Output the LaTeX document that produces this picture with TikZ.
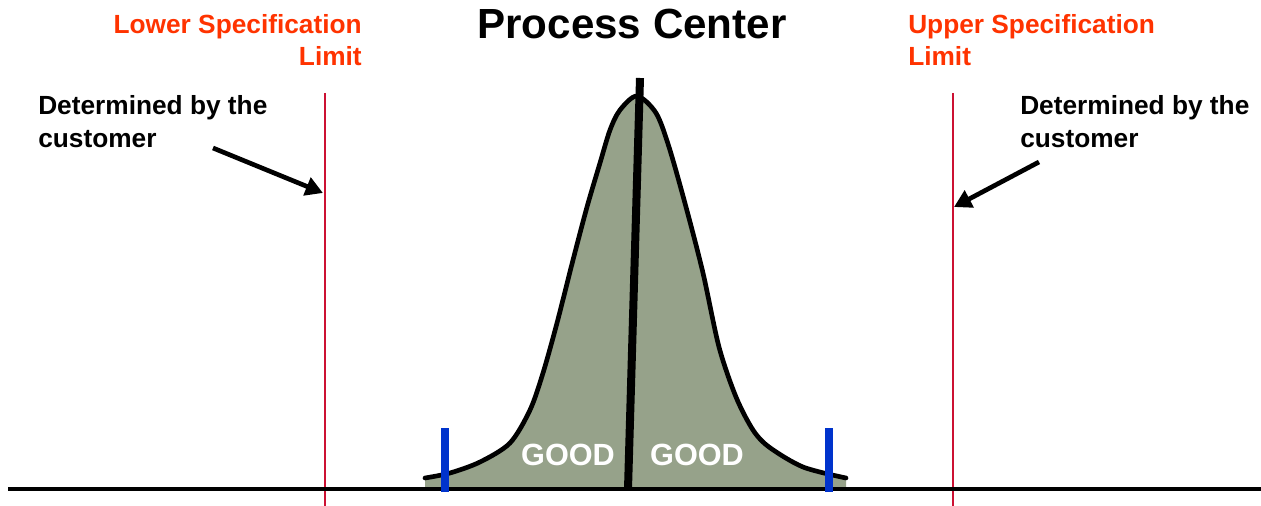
\documentclass[tikz,border=0pt]{standalone}
\usepackage{fontspec}
\setmainfont{Liberation Sans}
\usetikzlibrary{arrows.meta}
\usepackage{xcolor}
\definecolor{limorange}{HTML}{FF3300}
\definecolor{limred}{HTML}{CC1133}
\definecolor{bellgreen}{HTML}{96A28A}
\definecolor{tickblue}{HTML}{0033CC}

\begin{document}
\begin{tikzpicture}[
    x=0.75pt, y=-0.75pt,
    limtext/.style={text=limorange, inner sep=0pt, font=\bfseries\fontsize{19.7}{24}\selectfont},
    note/.style={text=black, inner sep=0pt, align=left, font=\bfseries\fontsize{19.7}{25}\selectfont},
    good/.style={text=white, inner sep=0pt, font=\bfseries\fontsize{23}{27}\selectfont},
    limline/.style={draw=limred, line width=1.6pt},
    tick/.style={draw=tickblue, line width=6pt},
    arrow/.style={-{Triangle[length=13pt, width=14pt]}, line width=3.5pt}
  ]
  \useasboundingbox (0,0) rectangle (1261,506);

  % bell curve
  \fill[bellgreen] plot[smooth] coordinates {(425,478) (450,473) (480,462) (510,443) (530,410) (543,373) (557,323) (573,260) (587,207) (600,163) (610,130) (620,110) (637,96) (656,113) (669,147) (686,207) (703,273) (719,347) (736,397) (753,430) (769,447) (803,467) (846,478)} -- (846,489) -- (425,489) -- cycle;
  \draw[line width=3.5pt, line cap=round] plot[smooth] coordinates {(425,478) (450,473) (480,462) (510,443) (530,410) (543,373) (557,323) (573,260) (587,207) (600,163) (610,130) (620,110) (637,96) (656,113) (669,147) (686,207) (703,273) (719,347) (736,397) (753,430) (769,447) (803,467) (846,478)};

  % limits and axis
  \coordinate (lsltop) at (325,93);
  \coordinate (lslbot) at (325,506);
  \coordinate (usltop) at (953,93);
  \coordinate (uslbot) at (953,506);
  \draw[limline] (lsltop) -- (lslbot);
  \draw[limline] (usltop) -- (uslbot);

  \coordinate (centtop) at (640,78);
  \coordinate (centbot) at (628,489);
  \draw[line width=6pt] (centtop) -- (centbot);

  \coordinate (axisl) at (8,489);
  \coordinate (axisr) at (1261,489);
  \draw[line width=3pt] (axisl) -- (axisr);

  \coordinate (ltick1) at (445,428);
  \coordinate (ltick2) at (445,492);
  \coordinate (rtick1) at (829,428);
  \coordinate (rtick2) at (829,492);
  \draw[tick] (ltick1) -- (ltick2);
  \draw[tick] (rtick1) -- (rtick2);

  % labels
  \node[anchor=base, inner sep=0pt, font=\bfseries\fontsize{31.6}{36}\selectfont] (title) at (632,39) {Process Center};
  \node[limtext, anchor=north east, align=right] (lsl) at (362,14) {Lower Specification\\Limit};
  \node[limtext, anchor=north west, align=left] (usl) at (908,14) {Upper Specification\\Limit};
  \node[note, anchor=north west] (lnote) at (38,95) {Determined by the\\customer};
  \node[note, anchor=north west] (rnote) at (1020,95) {Determined by the\\customer};
  \node[good, anchor=base] (goodl) at (568,465) {GOOD};
  \node[good, anchor=base] (goodr) at (697,465) {GOOD};

  % arrows
  \coordinate (larrow) at (213,148);
  \coordinate (lhit) at (323,193);
  \coordinate (rarrow) at (1039,162);
  \coordinate (rhit) at (954,207);
  \draw[arrow] (larrow) -- (lhit);
  \draw[arrow] (rarrow) -- (rhit);
\end{tikzpicture}
\end{document}
